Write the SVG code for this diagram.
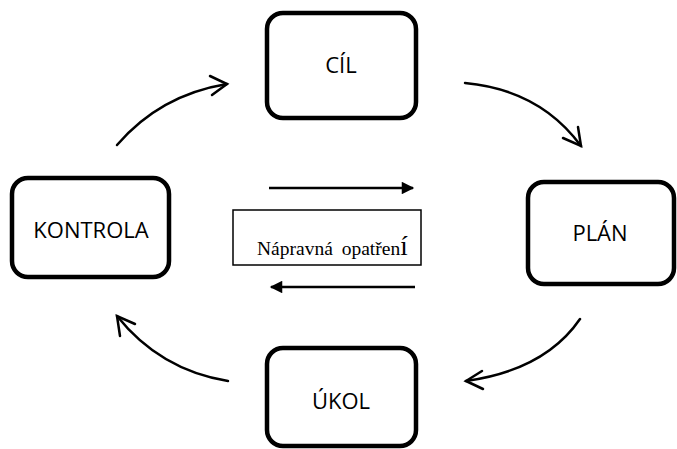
<svg xmlns="http://www.w3.org/2000/svg" width="677" height="449" viewBox="0 0 677 449">
<defs>
<style>
.node{fill:#fff;stroke:#000;stroke-width:4.5}
.lbl{font-family:"Open Sans","Liberation Sans",sans-serif;font-size:22px;fill:#000;text-anchor:middle}
.curve{fill:none;stroke:#000;stroke-width:2.5;stroke-linecap:round}
.chev{fill:none;stroke:#000;stroke-width:2.5;stroke-linecap:round;stroke-linejoin:miter}
.straight{stroke:#000;stroke-width:2.5}
</style>
<marker id="tri" viewBox="0 0 10 10" refX="9" refY="5" markerWidth="6.5" markerHeight="5" orient="auto" markerUnits="strokeWidth">
<path d="M0,0 L10,5 L0,10 z" fill="#000"/>
</marker>
</defs>
<rect width="677" height="449" fill="#fff"/>
<g id="cil"><rect class="node" x="267" y="13" width="149" height="105" rx="16"/><text class="lbl" x="341" y="73">CÍL</text></g>
<g id="plan"><rect class="node" x="528" y="182" width="146" height="102" rx="16"/><text class="lbl" x="600" y="241">PLÁN</text></g>
<g id="ukol"><rect class="node" x="267" y="348" width="149" height="98" rx="16"/><text class="lbl" x="341" y="409">ÚKOL</text></g>
<g id="kontrola"><rect class="node" x="12" y="178" width="157" height="99" rx="16"/><text class="lbl" x="91" y="238">KONTROLA</text></g>
<g id="napravna"><rect x="233" y="210" width="188" height="55" fill="#fff" stroke="#000" stroke-width="1.5"/><text x="257" y="255" font-family="'Liberation Serif',serif" font-size="19.5" word-spacing="4" fill="#000">Nápravná opatřen<tspan font-size="27">í</tspan></text></g>
<g id="connectors">
<line class="straight" x1="269" y1="188" x2="413" y2="188" marker-end="url(#tri)"/>
<line class="straight" x1="415" y1="287" x2="271" y2="287" marker-end="url(#tri)"/>
<path class="curve" d="M117,145 Q160,95 227,84"/>
<path class="chev" d="M210,76 L227,84 L212,95"/>
<path class="curve" d="M465,83 Q540,90 581,146"/>
<path class="chev" d="M563,138 L581,146 L578,127"/>
<path class="curve" d="M580,319 Q545,370 466,381"/>
<path class="chev" d="M482,371 L466,381 L483,389"/>
<path class="curve" d="M228,381 Q160,370 117,316"/>
<path class="chev" d="M135,324 L117,316 L120,336"/>
</g>
</svg>
